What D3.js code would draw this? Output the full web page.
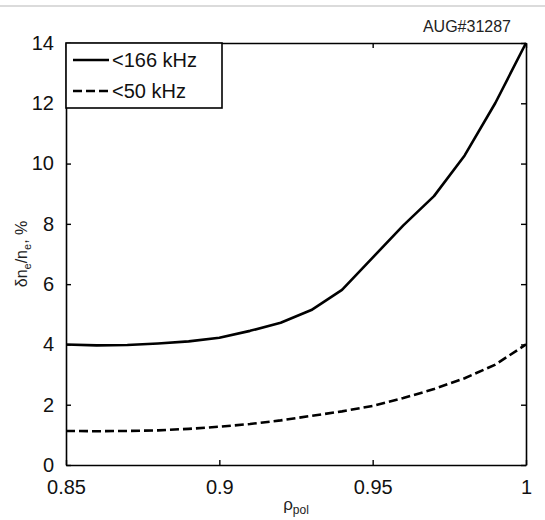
<!DOCTYPE html>
<html>
<head>
<meta charset="utf-8">
<script src="https://cdn.jsdelivr.net/npm/d3@7/dist/d3.min.js"></script>
<style>
  html, body { margin: 0; padding: 0; background: #fff; }
  svg { display: block; font-family: "Liberation Sans", Arial, sans-serif; }
</style>
</head>
<body>
<svg id="chart" width="545" height="520"></svg>
<script>
// Normalised poloidal radius
const rho = [0.85, 0.86, 0.87, 0.88, 0.89, 0.90, 0.91, 0.92, 0.93, 0.94, 0.95, 0.96, 0.97, 0.98, 0.99, 1.00];
// Relative density fluctuation level, % (frequencies below 166 kHz)
const fluct166 = [4.00, 3.97, 3.98, 4.03, 4.10, 4.22, 4.45, 4.72, 5.14, 5.81, 6.88, 7.95, 8.92, 10.27, 12.01, 14.00];
// Relative density fluctuation level, % (frequencies below 50 kHz)
const fluct50 = [1.13, 1.12, 1.13, 1.15, 1.20, 1.27, 1.36, 1.48, 1.63, 1.78, 1.96, 2.22, 2.52, 2.88, 3.33, 4.00];

const xTicks = [0.85, 0.9, 0.95, 1];
const yTicks = [0, 2, 4, 6, 8, 10, 12, 14];
const seriesNames = ["<166 kHz", "<50 kHz"];
const shotLabel = "AUG#31287";

const svg = d3.select("#chart");
const m = { left: 66, right: 526, top: 43, bottom: 465 };

const x = d3.scaleLinear().domain([0.85, 1]).range([m.left, m.right]);
const y = d3.scaleLinear().domain([0, 14]).range([m.bottom, m.top]);

// page separator line
svg.append("line")
  .attr("x1", 0).attr("x2", 545).attr("y1", 6).attr("y2", 6)
  .attr("stroke", "#cfcfcf").attr("stroke-width", 1.5);

// axes with inward ticks on all four sides
const fmtX = d => d === 1 ? "1" : d3.format("")(d);
const gB = svg.append("g").attr("transform", `translate(0,${m.bottom})`)
  .call(d3.axisBottom(x).tickValues(xTicks).tickFormat(fmtX).tickSizeInner(-5).tickSizeOuter(0).tickPadding(15));
const gT = svg.append("g").attr("transform", `translate(0,${m.top})`)
  .call(d3.axisTop(x).tickValues(xTicks).tickFormat("").tickSizeInner(-5).tickSizeOuter(0));
const gL = svg.append("g").attr("transform", `translate(${m.left},0)`)
  .call(d3.axisLeft(y).tickValues(yTicks).tickSizeInner(-5).tickSizeOuter(0).tickPadding(12));
const gR = svg.append("g").attr("transform", `translate(${m.right},0)`)
  .call(d3.axisRight(y).tickValues(yTicks).tickFormat("").tickSizeInner(-5).tickSizeOuter(0));

[gB, gT, gL, gR].forEach(g => {
  g.select(".domain").attr("stroke", "#000").attr("stroke-width", 1.6);
  g.selectAll(".tick line").attr("stroke", "#000").attr("stroke-width", 1.4);
  g.selectAll(".tick text")
    .attr("fill", "#111")
    .style("font-size", "20px")
    .style("font-family", "'Liberation Sans', Arial, sans-serif");
});

// data lines
const line = (vals) => d3.line()
  .x((d, i) => x(rho[i]))
  .y(d => y(d))
  .curve(d3.curveLinear)(vals);

svg.append("path")
  .attr("d", line(fluct50))
  .attr("fill", "none").attr("stroke", "#000")
  .attr("stroke-width", 2.6).attr("stroke-dasharray", "9,4");

svg.append("path")
  .attr("d", line(fluct166))
  .attr("fill", "none").attr("stroke", "#000")
  .attr("stroke-width", 2.6).attr("stroke-linejoin", "round");

// legend
const leg = svg.append("g");
leg.append("rect")
  .attr("x", 66).attr("y", 43).attr("width", 156).attr("height", 65)
  .attr("fill", "#fff").attr("stroke", "#000").attr("stroke-width", 1.6);
const legRows = [
  { name: seriesNames[0], dash: null, yy: 60 },
  { name: seriesNames[1], dash: "9,4", yy: 91 }
];
legRows.forEach(r => {
  leg.append("line")
    .attr("x1", 73).attr("x2", 109).attr("y1", r.yy).attr("y2", r.yy)
    .attr("stroke", "#000").attr("stroke-width", 2.6)
    .attr("stroke-dasharray", r.dash);
  leg.append("text")
    .attr("x", 112).attr("y", r.yy).attr("dy", "0.36em")
    .attr("fill", "#111")
    .style("font-size", "20px")
    .text(r.name);
});

// shot label
svg.append("text")
  .attr("x", 511).attr("y", 32).attr("text-anchor", "end")
  .attr("fill", "#222").style("font-size", "16px")
  .text(shotLabel);

// y axis title: δn_e/n_e, %
const yt = svg.append("text")
  .attr("transform", `translate(27,${(m.top + m.bottom) / 2}) rotate(-90)`)
  .attr("text-anchor", "middle")
  .attr("fill", "#222").style("font-size", "16px");
yt.append("tspan").text("δn");
yt.append("tspan").attr("dy", 4).style("font-size", "11px").text("e");
yt.append("tspan").attr("dy", -4).text("/n");
yt.append("tspan").attr("dy", 4).style("font-size", "11px").text("e");
yt.append("tspan").attr("dy", -4).text(", %");

// x axis title: ρ_pol
const xt = svg.append("text")
  .attr("x", (m.left + m.right) / 2).attr("y", 510)
  .attr("text-anchor", "middle")
  .attr("fill", "#222").style("font-size", "17px");
xt.append("tspan").text("ρ");
xt.append("tspan").attr("dy", 4).style("font-size", "12px").text("pol");
</script>
</body>
</html>
